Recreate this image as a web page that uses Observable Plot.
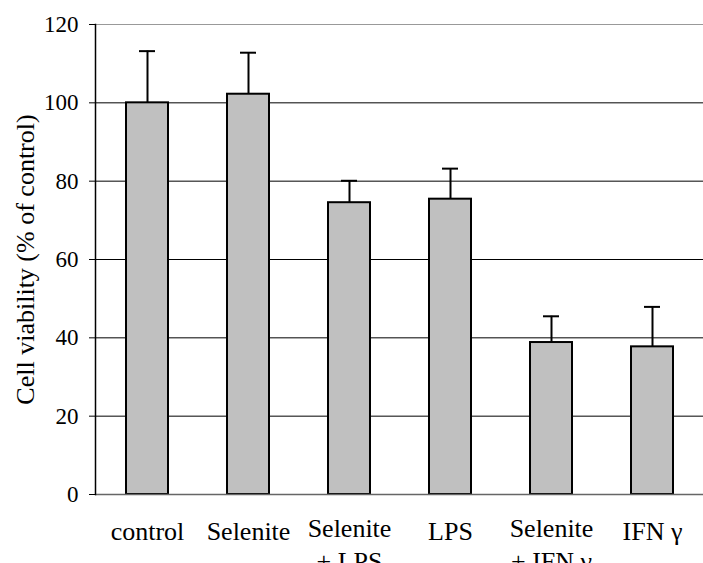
<!DOCTYPE html>
<html>
<head>
<meta charset="utf-8">
<script src="https://cdn.jsdelivr.net/npm/d3@7"></script>
<script src="https://cdn.jsdelivr.net/npm/@observablehq/plot@0.6"></script>
<style>
  html, body { margin: 0; padding: 0; background: #fff; }
  svg text { font-family: "Liberation Serif", "Times New Roman", serif !important; }
</style>
</head>
<body>
<div id="chart"></div>
<script>
const categories = ["control", "Selenite", "Selenite\n+ LPS", "LPS", "Selenite\n+ IFN γ", "IFN γ"];
const values = [100, 102.2, 74.5, 75.4, 38.8, 37.7];
const errors = [13.2, 10.6, 5.6, 7.8, 6.7, 10.2];
const yTicks = [0, 20, 40, 60, 80, 100, 120];
const yLabel = "Cell viability (% of control)";

const data = categories.map((c, i) => ({cat: c, value: values[i], upper: values[i] + errors[i]}));
const single = data.filter(d => !d.cat.includes("\n"));
const multi = data.filter(d => d.cat.includes("\n"));
const innerGrid = yTicks.filter(t => t > 0 && t < 120);
const yMax = yTicks[yTicks.length - 1];

const font = "'Liberation Serif', 'Times New Roman', serif";

const chart = Plot.plot({
  width: 703,
  height: 563,
  marginTop: 24,
  marginBottom: 69,
  marginLeft: 95,
  marginRight: 0,
  style: `font-family: ${font}; background: #fff; color: #000;`,
  x: {domain: categories, paddingInner: 0.587, paddingOuter: 0.293, axis: null},
  y: {domain: [0, yMax], axis: null},
  marks: [
    Plot.ruleY(innerGrid, {stroke: "#000", strokeWidth: 1}),
    Plot.ruleY([yMax], {stroke: "#999", strokeWidth: 1.2}),
    Plot.ruleX(data, {x: "cat", y1: "value", y2: "upper", stroke: "#000", strokeWidth: 2}),
    Plot.tickY(data, {x: "cat", y: "upper", stroke: "#000", strokeWidth: 2, insetLeft: 13, insetRight: 13}),
    Plot.barY(data, {x: "cat", y: "value", fill: "#c0c0c0", stroke: "#000", strokeWidth: 2}),
    Plot.ruleY([0], {stroke: "#666", strokeWidth: 1.5}),
    Plot.axisY({ticks: yTicks, tickSize: 6, tickPadding: 11, fontSize: 23, label: null, stroke: "#000", fill: "#000", tickFormat: d => String(d)}),
    Plot.frame({anchor: "left", stroke: "#000", strokeWidth: 1.5}),
    Plot.text(single, {x: "cat", text: "cat", frameAnchor: "bottom", lineAnchor: "top", dy: 27, fontSize: 26, fill: "#000"}),
    Plot.text(multi, {x: "cat", text: "cat", frameAnchor: "bottom", lineAnchor: "top", dy: 19, fontSize: 26, lineHeight: 1.27, fill: "#000"}),
    Plot.text([yLabel], {frameAnchor: "left", rotate: -90, dx: -70, lineAnchor: "middle", textAnchor: "middle", fontSize: 26, fill: "#000"})
  ]
});
document.getElementById("chart").appendChild(chart);
</script>
</body>
</html>
